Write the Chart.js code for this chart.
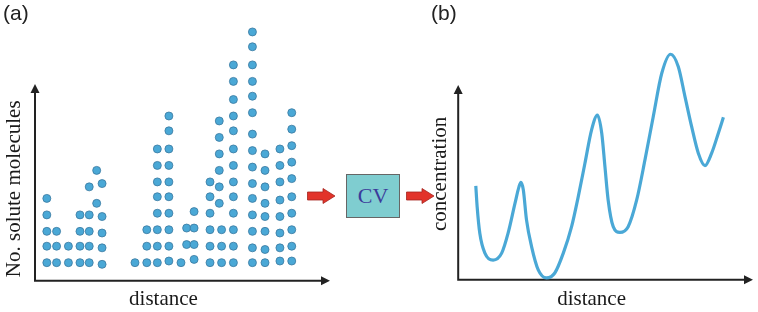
<!DOCTYPE html>
<html lang="en">
  <head>
    <meta charset="utf-8" />
    <title>Solute molecules and concentration</title>
    <style>
      * {
        margin: 0;
        padding: 0;
      }
      body {
        width: 758px;
        height: 312px;
        background: white;
        position: relative;
        overflow: hidden;
        font-family: "Liberation Sans", sans-serif;
      }
      .panel {
        position: absolute;
        top: 0;
        height: 312px;
      }
      .panelA {
        left: 0;
        width: 340px;
      }
      .panelB {
        left: 420px;
        width: 338px;
      }
      .tag {
        position: absolute;
        top: 1px;
        font-size: 21px;
        color: #222;
      }
      .cvBox {
        position: absolute;
        left: 346px;
        top: 174px;
        width: 52px;
        height: 42px;
        background: #7fcdd0;
        border: 1px solid #666;
        color: #3b3b9a;
        font-family: "Liberation Serif", serif;
        font-size: 22px;
        line-height: 42px;
        text-align: center;
      }
      .arrow {
        position: absolute;
        top: 188px;
      }
    </style>
  </head>
  <body>
    <div class="panel panelA"><canvas id="dotsChart" width="340" height="312"></canvas></div>
    <div class="panel panelB"><canvas id="curveChart" width="338" height="312"></canvas></div>

    <div class="tag" style="left: 3px">(a)</div>
    <div class="tag" style="left: 431px">(b)</div>

    <svg class="arrow" style="left: 307px" width="30" height="16">
      <polygon points="0.5,4 16,4 16,0.5 28,8 16,15.5 16,12 0.5,12" fill="#e2332a" stroke="#a52520" stroke-width="0.8" />
    </svg>
    <div class="cvBox">CV</div>
    <svg class="arrow" style="left: 406px" width="30" height="16">
      <polygon points="0.5,4 16,4 16,0.5 28,8 16,15.5 16,12 0.5,12" fill="#e2332a" stroke="#a52520" stroke-width="0.8" />
    </svg>

    <script src="https://cdn.jsdelivr.net/npm/chart.js"></script>

    <script>
      // (a) dot columns: distance of each column and the row of every molecule in it
      const columnDistance = [
        4.6, 8.4, 13.0, 17.5, 21.1, 24.0, 26.1, 38.9, 43.5, 47.6, 52.1,
        56.8, 59.0, 61.9, 68.1, 71.7, 72.6, 77.2, 84.6, 89.5, 95.3, 99.9,
      ];
      const columnMolecules = [
        [1, 2, 2.9, 3.9, 4.9],
        [1, 2, 2.9],
        [1, 2],
        [1, 2, 2.9, 3.9],
        [1, 2, 2.9, 3.9, 5.6],
        [4.6, 6.6],
        [0.9, 1.9, 2.8, 3.8, 5.8],
        [1],
        [1, 2, 3],
        [1, 2, 3, 4, 5, 5.9, 6.9, 7.9],
        [1.1, 2, 3, 4, 5, 5.9, 6.9, 7.9, 9, 9.9],
        [1],
        [2.1, 3.1],
        [1.2, 2.1, 3.1, 4.1],
        [1, 2, 3, 4, 5, 5.9],
        [4.6, 5.6, 6.6, 7.6, 8.6, 9.6],
        [1, 2, 3],
        [1, 2, 3, 4, 5, 5.9, 6.9, 7.9, 9, 9.9, 10.9, 12, 13],
        [1, 1.9, 2.9, 3.9, 4.9, 5.8, 6.8, 7.8, 8.8, 10.1, 11.1, 12, 13, 14.1, 15],
        [1, 1.8, 2.9, 3.8, 4.6, 5.6, 6.6, 7.6],
        [1.1, 1.9, 2.8, 3.8, 4.8, 5.9, 6.9, 7.9],
        [1.1, 2, 3, 4, 5, 6.1, 7.1, 8.1, 9.1, 10.1],
      ];

      // (b) concentration curve
      const curveDistance = [
        6.6, 7.1, 8.1, 10.0, 13.1, 16.3, 18.7, 21.3, 22.8, 23.5, 24.4, 25.6,
        27.5, 30.0, 33.1, 36.2, 39.4, 42.5, 45.0, 47.5, 50.0, 52.2, 53.8,
        55.0, 56.2, 58.1, 60.6, 63.7, 66.9, 70.0, 73.1, 76.3, 79.6, 82.5,
        85.0, 87.5, 90.0, 92.5, 95.0, 97.5, 99.4,
      ];
      const curveConcentration = [
        44.3, 34.6, 22.0, 12.6, 9.3, 12.6, 22.0, 36.2, 44.0, 46.0, 42.5, 28.3,
        15.7, 4.7, 0.9, 3.2, 12.6, 25.1, 39.3, 55.0, 70.8, 77.8, 69.2, 53.4,
        37.7, 25.1, 22.4, 25.1, 37.7, 56.6, 77.0, 97.5, 106.5, 100.6, 86.5,
        72.3, 59.8, 53.9, 59.8, 69.2, 76.7,
      ];

      const blue = "#4aa8d6";
      const serif = "'Liberation Serif', 'Times New Roman', serif";

      // axis lines with arrow heads, drawn past the plot area
      const arrowAxes = {
        id: "arrowAxes",
        beforeDatasetsDraw(chart, args, opts) {
          const { ctx, chartArea } = chart;
          const { left, right, top, bottom } = chartArea;
          const xEnd = right + opts.xExtend;
          const yEnd = top - opts.yExtend;
          ctx.save();
          ctx.strokeStyle = "#222";
          ctx.fillStyle = "#222";
          ctx.lineWidth = 2;
          ctx.beginPath();
          ctx.moveTo(left, yEnd + 6);
          ctx.lineTo(left, bottom);
          ctx.lineTo(xEnd - 6, bottom);
          ctx.stroke();
          // heads
          ctx.beginPath();
          ctx.moveTo(left, yEnd);
          ctx.lineTo(left - 4.5, yEnd + 9);
          ctx.lineTo(left + 4.5, yEnd + 9);
          ctx.closePath();
          ctx.fill();
          ctx.beginPath();
          ctx.moveTo(xEnd, bottom);
          ctx.lineTo(xEnd - 9, bottom - 4.5);
          ctx.lineTo(xEnd - 9, bottom + 4.5);
          ctx.closePath();
          ctx.fill();
          // y title sits on the arrow, not the (taller) plot area
          if (opts.yTitle) {
            ctx.translate(left - opts.yTitleGap, bottom - opts.yTitleRise);
            ctx.rotate(-Math.PI / 2);
            ctx.font = "21px " + serif;
            ctx.fillStyle = "#1a1a1a";
            ctx.textAlign = "center";
            ctx.textBaseline = "middle";
            ctx.fillText(opts.yTitle, 0, 0);
          }
          ctx.restore();
        },
      };

      function axisOptions(min, max, title, pad) {
        return {
          type: "linear",
          min: min,
          max: max,
          ticks: { display: false },
          grid: { display: false, drawTicks: false },
          border: { display: false },
          title: {
            display: !!title,
            text: title,
            color: "#1a1a1a",
            font: { family: serif, size: 21 },
            padding: pad,
          },
        };
      }

      const dotPoints = columnDistance.flatMap((x, i) =>
        columnMolecules[i].map((y) => ({ x: x, y: y }))
      );

      new Chart(document.getElementById("dotsChart"), {
        type: "scatter",
        data: {
          datasets: [
            {
              data: dotPoints,
              backgroundColor: blue,
              borderColor: "#3a78a0",
              borderWidth: 0.8,
              pointRadius: 4,
              clip: false,
            },
          ],
        },
        options: {
          responsive: false,
          animation: false,
          layout: { autoPadding: false, padding: { left: 35, top: 27, right: 48, bottom: 0 } },
          plugins: {
            legend: { display: false },
            tooltip: { enabled: false },
            arrowAxes: {
              xExtend: 38,
              yExtend: -57,
              yTitle: "No. solute molecules",
              yTitleGap: 21,
              yTitleRise: 92,
            },
          },
          scales: {
            x: axisOptions(0, 100, "distance", { top: 6, bottom: 0 }),
            y: axisOptions(-0.1, 15.3, "", 0),
          },
        },
        plugins: [arrowAxes],
      });

      new Chart(document.getElementById("curveChart"), {
        type: "line",
        data: {
          datasets: [
            {
              data: curveDistance.map((x, i) => ({ x: x, y: curveConcentration[i] })),
              borderColor: blue,
              borderWidth: 3.2,
              pointRadius: 0,
              cubicInterpolationMode: "monotone",
              clip: false,
            },
          ],
        },
        options: {
          responsive: false,
          animation: false,
          layout: { autoPadding: false, padding: { left: 8, top: 68, right: 33, bottom: 0 } },
          plugins: {
            legend: { display: false },
            tooltip: { enabled: false },
            arrowAxes: { xExtend: 28, yExtend: -17 },
          },
          scales: {
            x: axisOptions(0, 100, "distance", { top: 7, bottom: 0 }),
            y: axisOptions(0, 100, "concentration", { top: 0, bottom: 5 }),
          },
        },
        plugins: [arrowAxes],
      });
    </script>
  </body>
</html>
